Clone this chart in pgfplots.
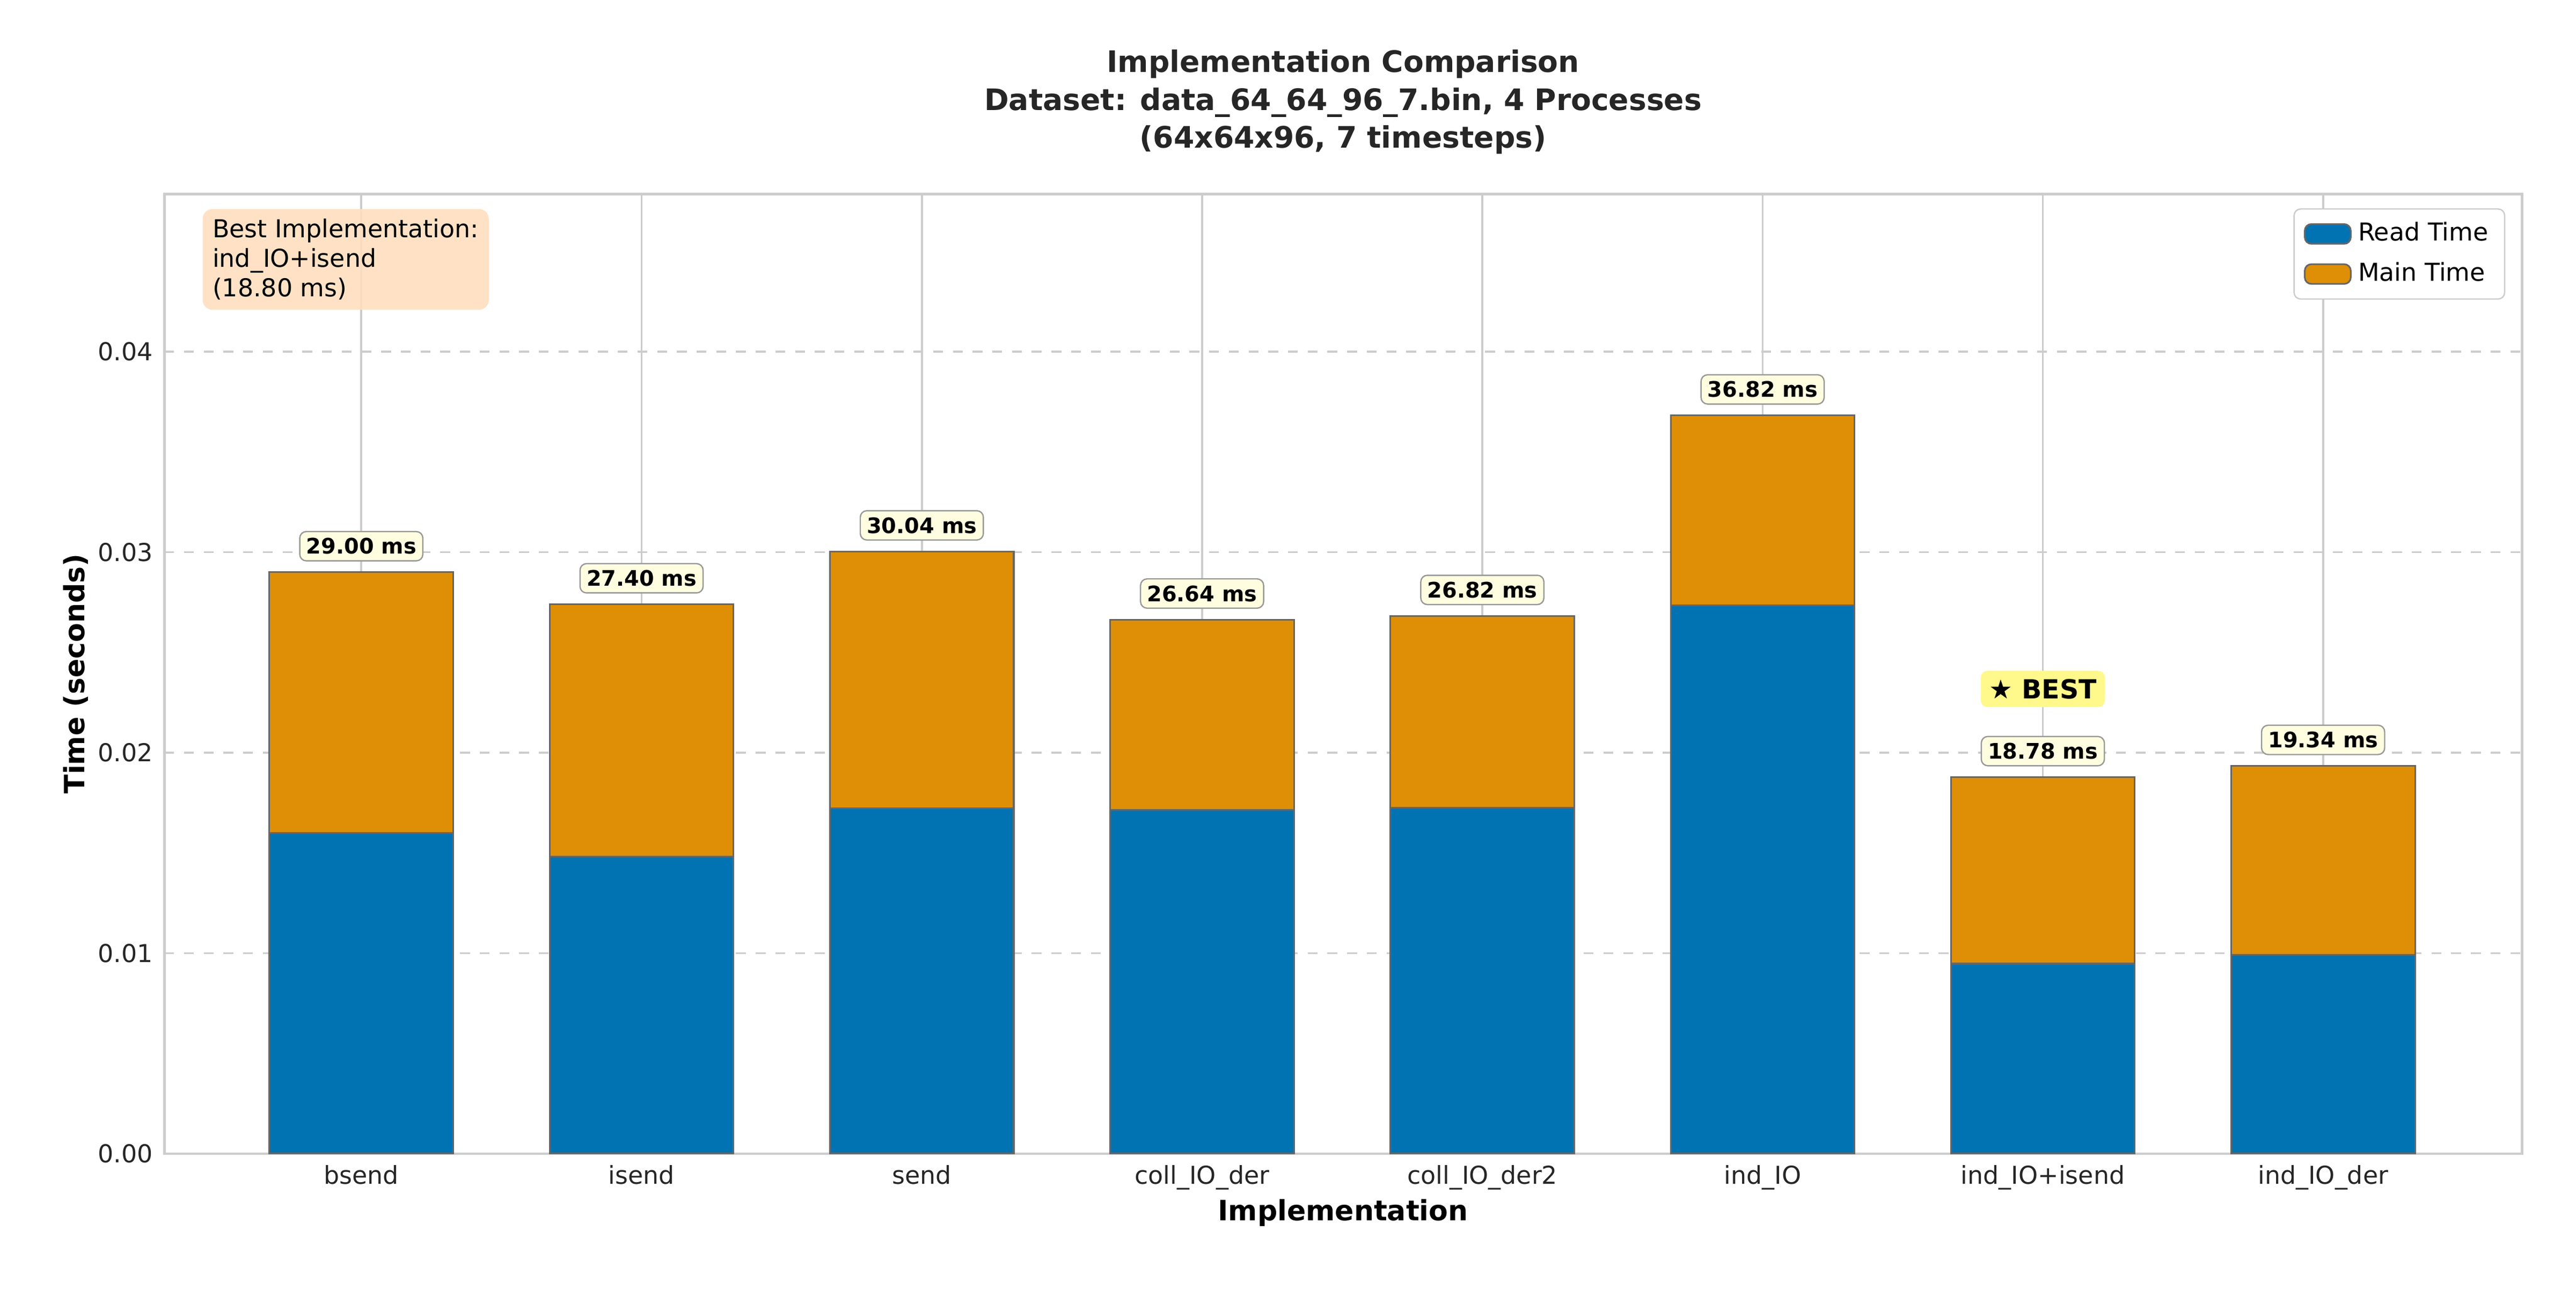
\documentclass[border=0pt]{standalone}
\usepackage{pgfplots}
\pgfplotsset{compat=1.18}
\usepackage{fontspec}
\setmainfont{DejaVu Sans}
\definecolor{cblue}{HTML}{0173B2}
\definecolor{corange}{HTML}{DE8F05}
\definecolor{gridc}{HTML}{CCCCCC}
\begin{document}
\begin{tikzpicture}
\path[use as bounding box] (-50pt,-41pt) rectangle (734pt,351pt);
\begin{axis}[
  scale only axis, width=717.5pt, height=292pt,
  ybar stacked, bar width=0.656,
  xmin=-0.703, xmax=7.709, ymin=0, ymax=0.04787,
  xtick={0,...,7},
  xticklabels={bsend,isend,send,coll\_IO\_der,coll\_IO\_der2,ind\_IO,ind\_IO+isend,ind\_IO\_der},
  ytick={0,0.01,0.02,0.03,0.04},
  yticklabel style={/pgf/number format/fixed,/pgf/number format/fixed zerofill,/pgf/number format/precision=2},
  /pgf/number format/assume math mode=true,
  scaled y ticks=false,
  tick style={draw=none},
  ticklabel style={font=\fontsize{7.5}{9}\selectfont, text=black!85},
  axis line style={draw=gridc, line width=0.8pt},
  xmajorgrids, ymajorgrids,
  x grid style={draw=gridc, line width=0.6pt},
  y grid style={draw=gridc, dashed, line width=0.6pt},
  axis on top=false,
  xlabel={\textbf{Implementation}}, ylabel={\textbf{Time (seconds)}},
  xlabel style={font=\fontsize{8.5}{10}\selectfont, yshift=4pt},
  ylabel style={font=\fontsize{8.5}{10}\selectfont, yshift=-4pt},
  legend style={at={(0.993,0.985)}, anchor=north east, font=\fontsize{7.5}{9}\selectfont, draw=gridc, rounded corners=2pt, row sep=1pt},
  legend cell align=left,
  legend image code/.code={\draw[#1] (0pt,-3pt) rectangle (14pt,3pt);},
]
\addplot[fill=cblue, draw=gray!80!black, line width=0.5pt] coordinates {(0,0.01600) (1,0.01482) (2,0.01724) (3,0.01714) (4,0.01726) (5,0.02734) (6,0.00948) (7,0.00992)};
\addplot[fill=corange, draw=gray!80!black, line width=0.5pt] coordinates {(0,0.01300) (1,0.01258) (2,0.01280) (3,0.00950) (4,0.00956) (5,0.00948) (6,0.00930) (7,0.00942)};
\legend{Read Time, Main Time}
\tikzset{inl/.style={font=\bfseries\fontsize{6.5}{8}\selectfont, text=white},
  tot/.style={font=\bfseries\fontsize{6.5}{8}\selectfont, fill=yellow!12, draw=gray!80, rounded corners=2pt, inner sep=2pt}}
\node[inl] at (axis cs:0,0.00800) {16.00 ms};
\node[inl] at (axis cs:1,0.00741) {14.82 ms};
\node[inl] at (axis cs:2,0.00862) {17.24 ms};
\node[inl] at (axis cs:3,0.00857) {17.14 ms};
\node[inl] at (axis cs:4,0.00863) {17.26 ms};
\node[inl] at (axis cs:5,0.01367) {27.34 ms};
\node[inl] at (axis cs:6,0.00474) {9.48 ms};
\node[inl] at (axis cs:7,0.00496) {9.92 ms};
\node[inl] at (axis cs:0,0.02250) {13.00 ms};
\node[inl] at (axis cs:1,0.02111) {12.58 ms};
\node[inl] at (axis cs:2,0.02364) {12.80 ms};
\node[inl] at (axis cs:3,0.02189) {9.50 ms};
\node[inl] at (axis cs:4,0.02204) {9.56 ms};
\node[inl] at (axis cs:5,0.03208) {9.48 ms};
\node[inl] at (axis cs:6,0.01413) {9.30 ms};
\node[inl] at (axis cs:7,0.01463) {9.42 ms};
\node[tot] at (axis cs:0,0.03030) {29.00 ms};
\node[tot] at (axis cs:1,0.02870) {27.40 ms};
\node[tot] at (axis cs:2,0.03134) {30.04 ms};
\node[tot] at (axis cs:3,0.02794) {26.64 ms};
\node[tot] at (axis cs:4,0.02812) {26.82 ms};
\node[tot] at (axis cs:5,0.03812) {36.82 ms};
\node[tot] at (axis cs:6,0.02008) {18.78 ms};
\node[tot] at (axis cs:7,0.02064) {19.34 ms};
\node[font=\bfseries\fontsize{8}{10}\selectfont, fill=yellow!45, rounded corners=2pt, inner sep=2.5pt] at (axis cs:6,0.02318) {{\fontspec{DejaVu Sans}★} BEST};
\node[anchor=north west, align=left, font=\fontsize{7.5}{9}\selectfont, fill=orange!25!white, fill opacity=0.9, text opacity=1, rounded corners=3pt, inner sep=3pt] at (rel axis cs:0.016,0.985) {Best Implementation:\\ind\_IO+isend\\(18.80 ms)};
\end{axis}
\node[align=center, font=\bfseries\fontsize{9}{11.5}\selectfont, text=black!85] at (358.75pt,320pt) {Implementation Comparison\\Dataset: data\_64\_64\_96\_7.bin, 4 Processes\\(64x64x96, 7 timesteps)};
\end{tikzpicture}
\end{document}
